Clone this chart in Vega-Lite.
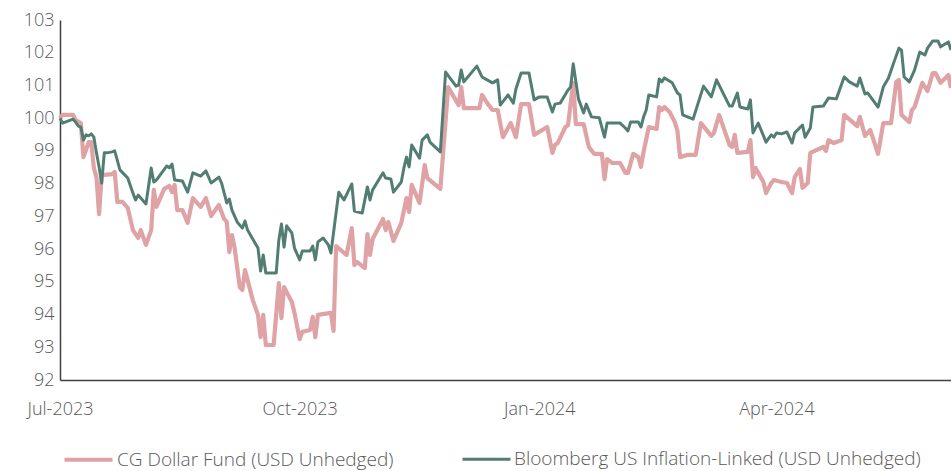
{
"$schema": "https://vega.github.io/schema/vega-lite/v6.json",
"width": 891, "height": 360,
"autosize": {"type": "none"},
"padding": {"left": 60, "top": 20, "right": 0, "bottom": 91},
"background": "white",
"config": {"view": {"stroke": null}, "font": "Open Sans"},
"datasets": {
"fund": [
{"date":"2023-07-01","value":100.00},{"date":"2023-07-02","value":100.10},{"date":"2023-07-06","value":100.10},{"date":"2023-07-07","value":99.94},{"date":"2023-07-09","value":99.85},{"date":"2023-07-10","value":98.81},{"date":"2023-07-11","value":99.03},{"date":"2023-07-12","value":99.27},{"date":"2023-07-13","value":99.27},{"date":"2023-07-14","value":98.48},{"date":"2023-07-15","value":98.20},{"date":"2023-07-16","value":97.07},{"date":"2023-07-17","value":98.26},{"date":"2023-07-21","value":98.29},{"date":"2023-07-22","value":98.36},{"date":"2023-07-23","value":97.44},{"date":"2023-07-25","value":97.44},{"date":"2023-07-27","value":97.26},{"date":"2023-07-29","value":96.58},{"date":"2023-07-31","value":96.34},{"date":"2023-08-01","value":96.58},{"date":"2023-08-03","value":96.13},{"date":"2023-08-05","value":96.58},{"date":"2023-08-06","value":97.81},{"date":"2023-08-07","value":97.29},{"date":"2023-08-10","value":97.84},{"date":"2023-08-12","value":97.93},{"date":"2023-08-13","value":97.74},{"date":"2023-08-14","value":97.96},{"date":"2023-08-15","value":97.19},{"date":"2023-08-17","value":97.19},{"date":"2023-08-19","value":96.80},{"date":"2023-08-21","value":97.56},{"date":"2023-08-24","value":97.29},{"date":"2023-08-26","value":97.56},{"date":"2023-08-28","value":97.01},{"date":"2023-08-31","value":97.35},{"date":"2023-09-02","value":96.92},{"date":"2023-09-03","value":96.83},{"date":"2023-09-04","value":95.91},{"date":"2023-09-05","value":96.43},{"date":"2023-09-06","value":96.06},{"date":"2023-09-08","value":94.84},{"date":"2023-09-09","value":94.75},{"date":"2023-09-10","value":95.36},{"date":"2023-09-13","value":94.44},{"date":"2023-09-15","value":93.99},{"date":"2023-09-16","value":93.31},{"date":"2023-09-17","value":93.99},{"date":"2023-09-18","value":93.07},{"date":"2023-09-21","value":93.07},{"date":"2023-09-23","value":94.96},{"date":"2023-09-24","value":93.89},{"date":"2023-09-25","value":94.84},{"date":"2023-09-28","value":94.38},{"date":"2023-09-29","value":94.05},{"date":"2023-10-01","value":93.25},{"date":"2023-10-02","value":93.47},{"date":"2023-10-05","value":93.53},{"date":"2023-10-06","value":93.93},{"date":"2023-10-07","value":93.31},{"date":"2023-10-08","value":93.99},{"date":"2023-10-13","value":94.05},{"date":"2023-10-14","value":93.50},{"date":"2023-10-15","value":96.09},{"date":"2023-10-19","value":95.82},{"date":"2023-10-21","value":96.64},{"date":"2023-10-22","value":95.51},{"date":"2023-10-23","value":95.61},{"date":"2023-10-26","value":95.42},{"date":"2023-10-27","value":96.46},{"date":"2023-10-28","value":95.82},{"date":"2023-10-29","value":96.31},{"date":"2023-11-02","value":96.92},{"date":"2023-11-03","value":96.58},{"date":"2023-11-04","value":96.83},{"date":"2023-11-06","value":96.25},{"date":"2023-11-09","value":96.80},{"date":"2023-11-11","value":97.56},{"date":"2023-11-12","value":97.13},{"date":"2023-11-13","value":97.96},{"date":"2023-11-16","value":97.41},{"date":"2023-11-18","value":98.57},{"date":"2023-11-19","value":98.17},{"date":"2023-11-24","value":97.84},{"date":"2023-11-27","value":100.95},{"date":"2023-12-01","value":100.40},{"date":"2023-12-02","value":100.95},{"date":"2023-12-03","value":100.31},{"date":"2023-12-09","value":100.31},{"date":"2023-12-10","value":100.71},{"date":"2023-12-12","value":100.46},{"date":"2023-12-14","value":100.25},{"date":"2023-12-16","value":100.25},{"date":"2023-12-18","value":99.42},{"date":"2023-12-21","value":99.85},{"date":"2023-12-23","value":99.42},{"date":"2023-12-25","value":100.43},{"date":"2023-12-28","value":100.43},{"date":"2023-12-30","value":99.49},{"date":"2024-01-04","value":99.73},{"date":"2024-01-06","value":98.94},{"date":"2024-01-07","value":99.18},{"date":"2024-01-08","value":99.24},{"date":"2024-01-11","value":99.73},{"date":"2024-01-12","value":99.79},{"date":"2024-01-14","value":101.08},{"date":"2024-01-15","value":99.82},{"date":"2024-01-18","value":99.82},{"date":"2024-01-20","value":99.12},{"date":"2024-01-22","value":98.91},{"date":"2024-01-25","value":98.91},{"date":"2024-01-26","value":98.14},{"date":"2024-01-27","value":98.75},{"date":"2024-01-29","value":98.63},{"date":"2024-02-01","value":98.63},{"date":"2024-02-03","value":98.33},{"date":"2024-02-04","value":98.33},{"date":"2024-02-06","value":98.91},{"date":"2024-02-08","value":98.81},{"date":"2024-02-09","value":98.51},{"date":"2024-02-10","value":98.97},{"date":"2024-02-12","value":99.73},{"date":"2024-02-15","value":99.67},{"date":"2024-02-16","value":100.34},{"date":"2024-02-17","value":100.25},{"date":"2024-02-18","value":100.34},{"date":"2024-02-20","value":100.19},{"date":"2024-02-22","value":99.88},{"date":"2024-02-23","value":99.61},{"date":"2024-02-24","value":98.81},{"date":"2024-02-27","value":98.88},{"date":"2024-03-01","value":98.88},{"date":"2024-03-03","value":99.85},{"date":"2024-03-07","value":99.46},{"date":"2024-03-08","value":99.55},{"date":"2024-03-10","value":100.10},{"date":"2024-03-14","value":99.18},{"date":"2024-03-15","value":99.12},{"date":"2024-03-16","value":99.49},{"date":"2024-03-17","value":98.94},{"date":"2024-03-21","value":98.97},{"date":"2024-03-22","value":99.33},{"date":"2024-03-23","value":98.20},{"date":"2024-03-24","value":98.48},{"date":"2024-03-27","value":98.05},{"date":"2024-03-28","value":97.71},{"date":"2024-03-30","value":98.02},{"date":"2024-03-31","value":98.11},{"date":"2024-04-03","value":98.05},{"date":"2024-04-05","value":98.02},{"date":"2024-04-07","value":97.71},{"date":"2024-04-08","value":98.20},{"date":"2024-04-10","value":98.45},{"date":"2024-04-11","value":97.87},{"date":"2024-04-13","value":98.02},{"date":"2024-04-14","value":98.94},{"date":"2024-04-19","value":99.12},{"date":"2024-04-20","value":99.00},{"date":"2024-04-21","value":99.33},{"date":"2024-04-23","value":99.24},{"date":"2024-04-26","value":99.33},{"date":"2024-04-27","value":100.10},{"date":"2024-05-02","value":99.76},{"date":"2024-05-03","value":100.04},{"date":"2024-05-05","value":99.46},{"date":"2024-05-07","value":99.64},{"date":"2024-05-10","value":98.91},{"date":"2024-05-12","value":99.85},{"date":"2024-05-15","value":99.85},{"date":"2024-05-17","value":101.11},{"date":"2024-05-18","value":101.17},{"date":"2024-05-19","value":100.10},{"date":"2024-05-22","value":99.88},{"date":"2024-05-23","value":100.25},{"date":"2024-05-24","value":100.34},{"date":"2024-05-27","value":101.08},{"date":"2024-05-29","value":100.83},{"date":"2024-05-31","value":101.38},{"date":"2024-06-01","value":101.38},{"date":"2024-06-03","value":101.08},{"date":"2024-06-06","value":101.32},{"date":"2024-06-07","value":100.92}
],
"bench": [
{"date":"2023-07-01","value":100.00},{"date":"2023-07-02","value":99.85},{"date":"2023-07-06","value":99.97},{"date":"2023-07-07","value":99.88},{"date":"2023-07-08","value":99.76},{"date":"2023-07-09","value":99.73},{"date":"2023-07-10","value":99.33},{"date":"2023-07-11","value":99.49},{"date":"2023-07-12","value":99.46},{"date":"2023-07-13","value":99.52},{"date":"2023-07-14","value":99.42},{"date":"2023-07-15","value":98.94},{"date":"2023-07-16","value":98.51},{"date":"2023-07-17","value":98.02},{"date":"2023-07-18","value":98.94},{"date":"2023-07-19","value":98.94},{"date":"2023-07-21","value":98.97},{"date":"2023-07-22","value":99.00},{"date":"2023-07-24","value":98.42},{"date":"2023-07-27","value":98.17},{"date":"2023-07-29","value":97.71},{"date":"2023-07-30","value":97.50},{"date":"2023-07-31","value":97.65},{"date":"2023-08-03","value":97.38},{"date":"2023-08-05","value":98.48},{"date":"2023-08-06","value":98.05},{"date":"2023-08-07","value":98.11},{"date":"2023-08-11","value":98.54},{"date":"2023-08-12","value":98.48},{"date":"2023-08-13","value":98.60},{"date":"2023-08-14","value":98.11},{"date":"2023-08-17","value":98.08},{"date":"2023-08-19","value":97.74},{"date":"2023-08-21","value":98.33},{"date":"2023-08-24","value":98.23},{"date":"2023-08-26","value":98.39},{"date":"2023-08-28","value":98.02},{"date":"2023-08-31","value":98.20},{"date":"2023-09-01","value":98.02},{"date":"2023-09-03","value":97.41},{"date":"2023-09-04","value":97.53},{"date":"2023-09-05","value":97.19},{"date":"2023-09-07","value":96.83},{"date":"2023-09-09","value":96.64},{"date":"2023-09-10","value":96.86},{"date":"2023-09-11","value":96.58},{"date":"2023-09-15","value":96.03},{"date":"2023-09-16","value":95.33},{"date":"2023-09-17","value":95.82},{"date":"2023-09-18","value":95.27},{"date":"2023-09-22","value":95.27},{"date":"2023-09-23","value":96.28},{"date":"2023-09-24","value":96.77},{"date":"2023-09-25","value":96.06},{"date":"2023-09-26","value":96.71},{"date":"2023-09-28","value":96.49},{"date":"2023-09-29","value":96.03},{"date":"2023-10-01","value":95.67},{"date":"2023-10-02","value":95.94},{"date":"2023-10-05","value":95.94},{"date":"2023-10-06","value":96.09},{"date":"2023-10-07","value":95.67},{"date":"2023-10-08","value":96.22},{"date":"2023-10-10","value":96.34},{"date":"2023-10-12","value":96.13},{"date":"2023-10-13","value":95.88},{"date":"2023-10-15","value":97.13},{"date":"2023-10-16","value":97.74},{"date":"2023-10-18","value":97.50},{"date":"2023-10-21","value":97.99},{"date":"2023-10-22","value":97.16},{"date":"2023-10-25","value":97.10},{"date":"2023-10-27","value":97.90},{"date":"2023-10-28","value":97.50},{"date":"2023-10-29","value":97.81},{"date":"2023-11-02","value":98.33},{"date":"2023-11-03","value":98.17},{"date":"2023-11-05","value":98.14},{"date":"2023-11-06","value":97.74},{"date":"2023-11-09","value":98.05},{"date":"2023-11-10","value":98.48},{"date":"2023-11-11","value":98.81},{"date":"2023-11-12","value":98.51},{"date":"2023-11-13","value":99.18},{"date":"2023-11-16","value":98.78},{"date":"2023-11-17","value":99.33},{"date":"2023-11-19","value":99.49},{"date":"2023-11-20","value":99.27},{"date":"2023-11-24","value":98.97},{"date":"2023-11-26","value":101.41},{"date":"2023-11-30","value":100.98},{"date":"2023-12-01","value":101.01},{"date":"2023-12-02","value":101.47},{"date":"2023-12-03","value":101.11},{"date":"2023-12-08","value":101.59},{"date":"2023-12-10","value":101.26},{"date":"2023-12-14","value":101.08},{"date":"2023-12-16","value":101.17},{"date":"2023-12-17","value":100.40},{"date":"2023-12-20","value":100.71},{"date":"2023-12-22","value":100.46},{"date":"2023-12-23","value":100.89},{"date":"2023-12-25","value":101.38},{"date":"2023-12-28","value":101.38},{"date":"2023-12-30","value":100.56},{"date":"2024-01-01","value":100.65},{"date":"2024-01-04","value":100.65},{"date":"2024-01-06","value":100.19},{"date":"2024-01-07","value":100.43},{"date":"2024-01-09","value":100.46},{"date":"2024-01-12","value":100.86},{"date":"2024-01-13","value":100.95},{"date":"2024-01-14","value":101.66},{"date":"2024-01-16","value":100.59},{"date":"2024-01-18","value":100.16},{"date":"2024-01-19","value":100.43},{"date":"2024-01-21","value":100.04},{"date":"2024-01-24","value":100.01},{"date":"2024-01-26","value":99.42},{"date":"2024-01-27","value":99.85},{"date":"2024-02-01","value":99.85},{"date":"2024-02-03","value":99.70},{"date":"2024-02-04","value":99.61},{"date":"2024-02-05","value":99.88},{"date":"2024-02-08","value":99.88},{"date":"2024-02-09","value":99.73},{"date":"2024-02-10","value":100.04},{"date":"2024-02-11","value":100.25},{"date":"2024-02-12","value":100.71},{"date":"2024-02-15","value":100.65},{"date":"2024-02-16","value":101.20},{"date":"2024-02-17","value":101.11},{"date":"2024-02-18","value":101.23},{"date":"2024-02-21","value":101.08},{"date":"2024-02-23","value":100.77},{"date":"2024-02-24","value":100.71},{"date":"2024-02-25","value":100.10},{"date":"2024-02-29","value":99.97},{"date":"2024-03-04","value":100.98},{"date":"2024-03-07","value":100.65},{"date":"2024-03-09","value":101.17},{"date":"2024-03-14","value":100.37},{"date":"2024-03-15","value":100.37},{"date":"2024-03-17","value":100.77},{"date":"2024-03-18","value":100.34},{"date":"2024-03-21","value":100.28},{"date":"2024-03-22","value":100.56},{"date":"2024-03-23","value":99.55},{"date":"2024-03-25","value":99.85},{"date":"2024-03-28","value":99.27},{"date":"2024-03-30","value":99.49},{"date":"2024-03-31","value":99.42},{"date":"2024-04-01","value":99.55},{"date":"2024-04-03","value":99.52},{"date":"2024-04-05","value":99.58},{"date":"2024-04-07","value":99.24},{"date":"2024-04-08","value":99.55},{"date":"2024-04-11","value":99.79},{"date":"2024-04-12","value":99.42},{"date":"2024-04-14","value":99.70},{"date":"2024-04-15","value":100.34},{"date":"2024-04-19","value":100.37},{"date":"2024-04-21","value":100.62},{"date":"2024-04-24","value":100.59},{"date":"2024-04-27","value":101.26},{"date":"2024-04-29","value":101.11},{"date":"2024-05-02","value":100.98},{"date":"2024-05-03","value":101.23},{"date":"2024-05-05","value":100.74},{"date":"2024-05-06","value":100.77},{"date":"2024-05-10","value":100.34},{"date":"2024-05-12","value":100.95},{"date":"2024-05-14","value":101.23},{"date":"2024-05-16","value":101.69},{"date":"2024-05-18","value":102.14},{"date":"2024-05-19","value":102.08},{"date":"2024-05-20","value":101.26},{"date":"2024-05-22","value":101.11},{"date":"2024-05-24","value":101.47},{"date":"2024-05-26","value":102.02},{"date":"2024-05-28","value":101.93},{"date":"2024-05-29","value":102.14},{"date":"2024-05-31","value":102.36},{"date":"2024-06-02","value":102.36},{"date":"2024-06-03","value":102.18},{"date":"2024-06-06","value":102.33},{"date":"2024-06-07","value":102.08}
]
},
"encoding": {
"x": {"field": "date", "type": "temporal",
"scale": {"type": "utc", "domain": [{"year": 2023, "month": 7, "date": 1, "utc": true}, {"year": 2024, "month": 6, "date": 7, "utc": true}]},
"axis": {"title": null, "values": [{"year": 2023, "month": 7, "date": 1, "utc": true}, {"year": 2023, "month": 10, "date": 1, "utc": true}, {"year": 2024, "month": 1, "date": 1, "utc": true}, {"year": 2024, "month": 4, "date": 1, "utc": true}],
"labelExpr": "utcFormat(datum.value, '%b-%Y')", "ticks": false, "grid": false, "domainColor": "#404040", "domainWidth": 1.5,
"labelFont": "Open Sans", "labelFontSize": 18, "labelFontWeight": 300, "labelColor": "#595959", "labelPadding": 20, "labelFlush": false, "labelOverlap": false}},
"y": {"field": "value", "type": "quantitative",
"scale": {"domain": [92, 103], "nice": false, "zero": false},
"axis": {"title": null, "values": [92, 93, 94, 95, 96, 97, 98, 99, 100, 101, 102, 103], "ticks": false, "grid": false, "domainColor": "#404040", "domainWidth": 1.5,
"labelFont": "Open Sans", "labelFontSize": 18, "labelFontWeight": 300, "labelColor": "#595959", "labelPadding": 6}}
},
"layer": [
{
"data": {"name": "fund"},
"mark": {"type": "line", "strokeJoin": "round"},
"encoding": {
"color": {"datum": "CG Dollar Fund (USD Unhedged)", "type": "nominal",
"scale": {"domain": ["CG Dollar Fund (USD Unhedged)", "Bloomberg US Inflation-Linked (USD Unhedged)"], "range": ["#DFA3A5", "#527D73"]},
"legend": {"title": null, "orient": "none", "direction": "horizontal", "legendX": 2, "legendY": 413, "padding": 0,
"symbolType": "stroke", "symbolSize": 2304, "labelOffset": 2, "columnPadding": 62, "labelLimit": 600,
"labelFont": "Open Sans", "labelFontSize": 19, "labelFontWeight": 300, "labelColor": "#595959"}},
"strokeWidth": {"datum": "CG Dollar Fund (USD Unhedged)", "type": "nominal",
"scale": {"domain": ["CG Dollar Fund (USD Unhedged)", "Bloomberg US Inflation-Linked (USD Unhedged)"], "range": [4.2, 3]},
"legend": {"title": null, "orient": "none", "direction": "horizontal", "legendX": 2, "legendY": 413, "padding": 0,
"symbolType": "stroke", "symbolSize": 2304, "labelOffset": 2, "columnPadding": 62, "labelLimit": 600,
"labelFont": "Open Sans", "labelFontSize": 19, "labelFontWeight": 300, "labelColor": "#595959"}}
}
},
{
"data": {"name": "bench"},
"mark": {"type": "line", "strokeJoin": "round"},
"encoding": {
"color": {"datum": "Bloomberg US Inflation-Linked (USD Unhedged)", "type": "nominal"},
"strokeWidth": {"datum": "Bloomberg US Inflation-Linked (USD Unhedged)", "type": "nominal"}
}
}
]
}
